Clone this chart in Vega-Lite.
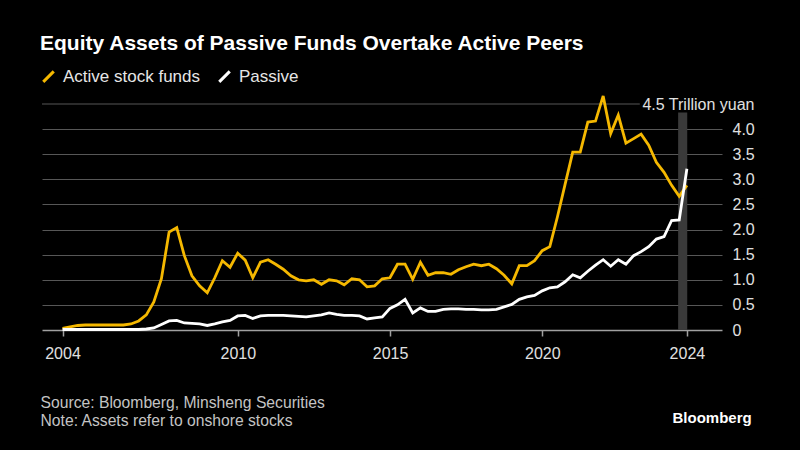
{
  "$schema": "https://vega.github.io/schema/vega-lite/v6.json",
  "width": 680,
  "height": 226,
  "autosize": {"type": "none"},
  "padding": {"left": 42, "top": 104, "right": 78, "bottom": 120},
  "background": "#000000",
  "config": {
    "view": {"stroke": null},
    "font": "Liberation Sans",
    "axisX": {
      "titleAnchor": "start",
      "titleAlign": "left",
      "titleBaseline": "alphabetic",
      "titleX": -2,
      "titleY": 77,
      "titleLineHeight": 18,
      "titleFont": "Liberation Sans",
      "titleFontSize": 15.7,
      "titleFontWeight": "normal",
      "titleColor": "#c4c4c4",
      "grid": false,
      "domain": true,
      "domainColor": "#a0a0a0",
      "domainWidth": 1.5,
      "ticks": true,
      "tickColor": "#a0a0a0",
      "tickSize": 6,
      "tickWidth": 1.5,
      "labelColor": "#e0e0e0",
      "labelFontSize": 16,
      "labelPadding": 9,
      "labelFlush": false,
      "labelOverlap": false
    },
    "axisY": {
      "labelOverlap": false,
      "labelBound": false,
      "labelColor": "#e0e0e0",
      "labelFontSize": 16,
      "domain": false,
      "ticks": false,
      "grid": true,
      "gridColor": "#575757",
      "gridWidth": 1,
      "titleAngle": 0,
      "titleAlign": "left",
      "titleBaseline": "alphabetic",
      "titleX": -50,
      "titleY": 318,
      "titleFont": "Liberation Sans",
      "titleFontSize": 15,
      "titleFontWeight": "bold",
      "titleColor": "#ffffff"
    }
  },
  "title": {
    "text": "Equity Assets of Passive Funds Overtake Active Peers",
    "anchor": "start",
    "frame": "group",
    "color": "#ffffff",
    "fontSize": 21,
    "fontWeight": "bold",
    "font": "Liberation Sans",
    "offset": 14,
    "dx": -2
  },
  "data": {
    "values": [
      {"date": "2004-03-31", "Active stock funds": 0.03, "Passive": 0.01},
      {"date": "2004-06-30", "Active stock funds": 0.06, "Passive": 0.01},
      {"date": "2004-09-30", "Active stock funds": 0.09, "Passive": 0.01},
      {"date": "2004-12-31", "Active stock funds": 0.10, "Passive": 0.01},
      {"date": "2005-03-31", "Active stock funds": 0.10, "Passive": 0.01},
      {"date": "2005-06-30", "Active stock funds": 0.10, "Passive": 0.01},
      {"date": "2005-09-30", "Active stock funds": 0.10, "Passive": 0.01},
      {"date": "2005-12-31", "Active stock funds": 0.10, "Passive": 0.01},
      {"date": "2006-03-31", "Active stock funds": 0.10, "Passive": 0.01},
      {"date": "2006-06-30", "Active stock funds": 0.12, "Passive": 0.01},
      {"date": "2006-09-30", "Active stock funds": 0.18, "Passive": 0.01},
      {"date": "2006-12-31", "Active stock funds": 0.30, "Passive": 0.02},
      {"date": "2007-03-31", "Active stock funds": 0.56, "Passive": 0.04},
      {"date": "2007-06-30", "Active stock funds": 1.02, "Passive": 0.11},
      {"date": "2007-09-30", "Active stock funds": 1.95, "Passive": 0.18},
      {"date": "2007-12-31", "Active stock funds": 2.04, "Passive": 0.19},
      {"date": "2008-03-31", "Active stock funds": 1.48, "Passive": 0.14},
      {"date": "2008-06-30", "Active stock funds": 1.08, "Passive": 0.13},
      {"date": "2008-09-30", "Active stock funds": 0.88, "Passive": 0.12},
      {"date": "2008-12-31", "Active stock funds": 0.74, "Passive": 0.09},
      {"date": "2009-03-31", "Active stock funds": 1.04, "Passive": 0.12},
      {"date": "2009-06-30", "Active stock funds": 1.38, "Passive": 0.16},
      {"date": "2009-09-30", "Active stock funds": 1.25, "Passive": 0.19},
      {"date": "2009-12-31", "Active stock funds": 1.53, "Passive": 0.28},
      {"date": "2010-03-31", "Active stock funds": 1.39, "Passive": 0.29},
      {"date": "2010-06-30", "Active stock funds": 1.04, "Passive": 0.23},
      {"date": "2010-09-30", "Active stock funds": 1.35, "Passive": 0.28},
      {"date": "2010-12-31", "Active stock funds": 1.40, "Passive": 0.29},
      {"date": "2011-03-31", "Active stock funds": 1.31, "Passive": 0.29},
      {"date": "2011-06-30", "Active stock funds": 1.21, "Passive": 0.29},
      {"date": "2011-09-30", "Active stock funds": 1.08, "Passive": 0.28},
      {"date": "2011-12-31", "Active stock funds": 1.00, "Passive": 0.27},
      {"date": "2012-03-31", "Active stock funds": 0.98, "Passive": 0.26},
      {"date": "2012-06-30", "Active stock funds": 1.00, "Passive": 0.28},
      {"date": "2012-09-30", "Active stock funds": 0.91, "Passive": 0.30},
      {"date": "2012-12-31", "Active stock funds": 1.00, "Passive": 0.34},
      {"date": "2013-03-31", "Active stock funds": 0.98, "Passive": 0.31},
      {"date": "2013-06-30", "Active stock funds": 0.90, "Passive": 0.29},
      {"date": "2013-09-30", "Active stock funds": 1.02, "Passive": 0.29},
      {"date": "2013-12-31", "Active stock funds": 1.00, "Passive": 0.28},
      {"date": "2014-03-31", "Active stock funds": 0.86, "Passive": 0.22},
      {"date": "2014-06-30", "Active stock funds": 0.88, "Passive": 0.24},
      {"date": "2014-09-30", "Active stock funds": 1.02, "Passive": 0.26},
      {"date": "2014-12-31", "Active stock funds": 1.04, "Passive": 0.43},
      {"date": "2015-03-31", "Active stock funds": 1.31, "Passive": 0.50},
      {"date": "2015-06-30", "Active stock funds": 1.31, "Passive": 0.61},
      {"date": "2015-09-30", "Active stock funds": 1.01, "Passive": 0.34},
      {"date": "2015-12-31", "Active stock funds": 1.35, "Passive": 0.44},
      {"date": "2016-03-31", "Active stock funds": 1.09, "Passive": 0.37},
      {"date": "2016-06-30", "Active stock funds": 1.14, "Passive": 0.37},
      {"date": "2016-09-30", "Active stock funds": 1.14, "Passive": 0.41},
      {"date": "2016-12-31", "Active stock funds": 1.11, "Passive": 0.42},
      {"date": "2017-03-31", "Active stock funds": 1.20, "Passive": 0.42},
      {"date": "2017-06-30", "Active stock funds": 1.26, "Passive": 0.41},
      {"date": "2017-09-30", "Active stock funds": 1.31, "Passive": 0.41},
      {"date": "2017-12-31", "Active stock funds": 1.28, "Passive": 0.40},
      {"date": "2018-03-31", "Active stock funds": 1.31, "Passive": 0.40},
      {"date": "2018-06-30", "Active stock funds": 1.22, "Passive": 0.41},
      {"date": "2018-09-30", "Active stock funds": 1.09, "Passive": 0.46},
      {"date": "2018-12-31", "Active stock funds": 0.92, "Passive": 0.51},
      {"date": "2019-03-31", "Active stock funds": 1.28, "Passive": 0.61},
      {"date": "2019-06-30", "Active stock funds": 1.28, "Passive": 0.66},
      {"date": "2019-09-30", "Active stock funds": 1.38, "Passive": 0.69},
      {"date": "2019-12-31", "Active stock funds": 1.58, "Passive": 0.78},
      {"date": "2020-03-31", "Active stock funds": 1.66, "Passive": 0.84},
      {"date": "2020-06-30", "Active stock funds": 2.25, "Passive": 0.86},
      {"date": "2020-09-30", "Active stock funds": 2.90, "Passive": 0.96},
      {"date": "2020-12-31", "Active stock funds": 3.54, "Passive": 1.10},
      {"date": "2021-03-31", "Active stock funds": 3.54, "Passive": 1.04},
      {"date": "2021-06-30", "Active stock funds": 4.14, "Passive": 1.17},
      {"date": "2021-09-30", "Active stock funds": 4.16, "Passive": 1.29},
      {"date": "2021-12-31", "Active stock funds": 4.66, "Passive": 1.40},
      {"date": "2022-03-31", "Active stock funds": 3.91, "Passive": 1.27},
      {"date": "2022-06-30", "Active stock funds": 4.28, "Passive": 1.40},
      {"date": "2022-09-30", "Active stock funds": 3.72, "Passive": 1.31},
      {"date": "2022-12-31", "Active stock funds": 3.81, "Passive": 1.48},
      {"date": "2023-03-31", "Active stock funds": 3.90, "Passive": 1.56},
      {"date": "2023-06-30", "Active stock funds": 3.68, "Passive": 1.66},
      {"date": "2023-09-30", "Active stock funds": 3.34, "Passive": 1.81},
      {"date": "2023-12-31", "Active stock funds": 3.14, "Passive": 1.86},
      {"date": "2024-03-31", "Active stock funds": 2.88, "Passive": 2.18},
      {"date": "2024-06-30", "Active stock funds": 2.66, "Passive": 2.19},
      {"date": "2024-09-30", "Active stock funds": 2.88, "Passive": 3.21}
    ]
  },
  "layer": [
    {
      "data": {"values": [{}]},
      "mark": {"type": "rect", "color": "#3a3a3a"},
      "encoding": {
        "x": {
          "datum": {"year": 2024, "month": 6, "date": 17, "utc": true},
          "type": "temporal",
          "scale": {
            "type": "utc",
            "domain": [
              {"year": 2003, "month": 7, "date": 29, "utc": true},
              {"year": 2025, "month": 11, "date": 25, "utc": true}
            ]
          },
          "axis": {
            "title": ["Source: Bloomberg, Minsheng Securities", "Note: Assets refer to onshore stocks"],
            "values": [
              {"year": 2004, "month": 3, "date": 31, "utc": true},
              {"year": 2010, "month": 1, "date": 1, "utc": true},
              {"year": 2015, "month": 1, "date": 1, "utc": true},
              {"year": 2020, "month": 1, "date": 1, "utc": true},
              {"year": 2024, "month": 9, "date": 30, "utc": true}
            ],
            "labelExpr": "utcFormat(datum.value, '%Y')"
          }
        },
        "x2": {"datum": {"year": 2024, "month": 10, "date": 4, "utc": true}},
        "y": {
          "datum": 0,
          "type": "quantitative",
          "scale": {"domain": [0, 4.5], "nice": false, "zero": true},
          "axis": {
            "orient": "right",
            "title": "Bloomberg",
            "values": [0, 0.5, 1, 1.5, 2, 2.5, 3, 3.5, 4, 4.5],
            "labelExpr": "datum.value == 4.5 ? '4.5 Trillion yuan' : (datum.value == 0 ? '0' : format(datum.value, '.1f'))",
            "labelAlign": {"condition": {"test": "datum.value == 4.5", "value": "right"}, "value": "left"},
            "labelPadding": {"condition": {"test": "datum.value == 4.5", "value": 32}, "value": 10},
            "gridOpacity": {"condition": {"test": "datum.value == 4.5 || datum.value == 0", "value": 0}, "value": 1}
          }
        },
        "y2": {"datum": 4.33}
      }
    },
    {
      "data": {"values": [{}]},
      "mark": {"type": "rule", "color": "#575757", "strokeWidth": 1},
      "encoding": {
        "x": {
          "datum": {"year": 2003, "month": 7, "date": 29, "utc": true},
          "type": "temporal",
          "axis": {
            "title": ["Source: Bloomberg, Minsheng Securities", "Note: Assets refer to onshore stocks"],
            "values": [
              {"year": 2004, "month": 3, "date": 31, "utc": true},
              {"year": 2010, "month": 1, "date": 1, "utc": true},
              {"year": 2015, "month": 1, "date": 1, "utc": true},
              {"year": 2020, "month": 1, "date": 1, "utc": true},
              {"year": 2024, "month": 9, "date": 30, "utc": true}
            ],
            "labelExpr": "utcFormat(datum.value, '%Y')"
          }
        },
        "x2": {"datum": {"year": 2023, "month": 3, "date": 15, "utc": true}},
        "y": {
          "datum": 4.5,
          "type": "quantitative",
          "axis": {
            "orient": "right",
            "title": "Bloomberg",
            "values": [0, 0.5, 1, 1.5, 2, 2.5, 3, 3.5, 4, 4.5],
            "labelExpr": "datum.value == 4.5 ? '4.5 Trillion yuan' : (datum.value == 0 ? '0' : format(datum.value, '.1f'))",
            "labelAlign": {"condition": {"test": "datum.value == 4.5", "value": "right"}, "value": "left"},
            "labelPadding": {"condition": {"test": "datum.value == 4.5", "value": 32}, "value": 10},
            "gridOpacity": {"condition": {"test": "datum.value == 4.5 || datum.value == 0", "value": 0}, "value": 1}
          }
        }
      }
    },
    {
      "transform": [
        {"fold": ["Active stock funds", "Passive"], "as": ["series", "value"]}
      ],
      "mark": {"type": "line", "strokeWidth": 2.8, "strokeJoin": "miter", "strokeCap": "butt"},
      "encoding": {
        "x": {
          "field": "date",
          "type": "temporal",
          "axis": {
            "title": ["Source: Bloomberg, Minsheng Securities", "Note: Assets refer to onshore stocks"],
            "values": [
              {"year": 2004, "month": 3, "date": 31, "utc": true},
              {"year": 2010, "month": 1, "date": 1, "utc": true},
              {"year": 2015, "month": 1, "date": 1, "utc": true},
              {"year": 2020, "month": 1, "date": 1, "utc": true},
              {"year": 2024, "month": 9, "date": 30, "utc": true}
            ],
            "labelExpr": "utcFormat(datum.value, '%Y')"
          }
        },
        "y": {
          "field": "value",
          "type": "quantitative",
          "axis": {
            "orient": "right",
            "title": "Bloomberg",
            "values": [0, 0.5, 1, 1.5, 2, 2.5, 3, 3.5, 4, 4.5],
            "labelExpr": "datum.value == 4.5 ? '4.5 Trillion yuan' : (datum.value == 0 ? '0' : format(datum.value, '.1f'))",
            "labelAlign": {"condition": {"test": "datum.value == 4.5", "value": "right"}, "value": "left"},
            "labelPadding": {"condition": {"test": "datum.value == 4.5", "value": 32}, "value": 10},
            "gridOpacity": {"condition": {"test": "datum.value == 4.5 || datum.value == 0", "value": 0}, "value": 1}
          }
        },
        "color": {
          "field": "series",
          "type": "nominal",
          "scale": {"domain": ["Active stock funds", "Passive"], "range": ["#f5b800", "#ffffff"]},
          "legend": {
            "orient": "none",
            "legendX": -2,
            "legendY": -36,
            "direction": "horizontal",
            "title": null,
            "symbolType": "M-1,1L1,-1",
            "symbolSize": 110,
            "symbolStrokeWidth": 3,
            "labelFontSize": 17,
            "labelColor": "#e6e6e6",
            "labelFont": "Liberation Sans",
            "columnPadding": 12,
            "labelOffset": 6
          }
        }
      }
    }
  ]
}
